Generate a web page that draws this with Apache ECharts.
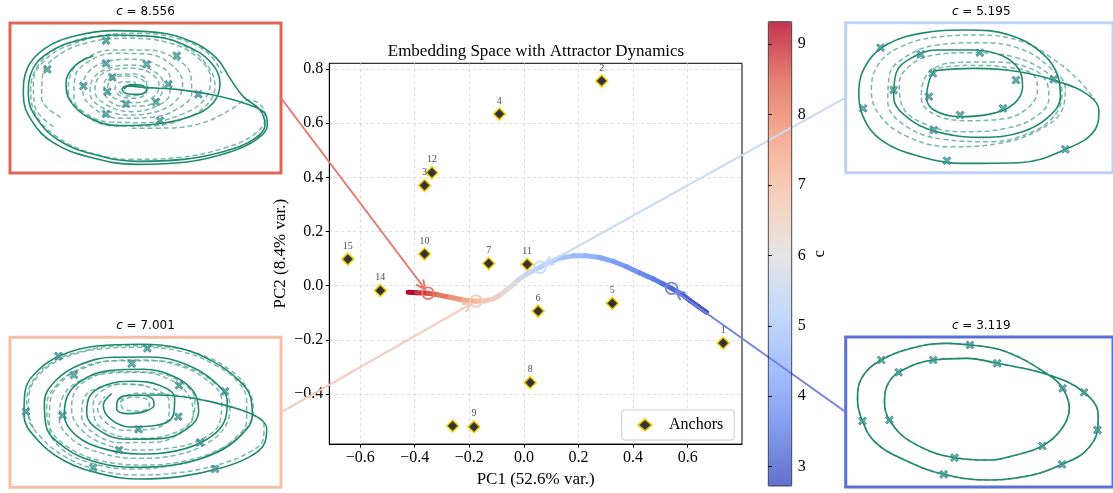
<!DOCTYPE html>
<html>
<head>
<meta charset="utf-8">
<script src="https://cdn.jsdelivr.net/npm/echarts@6/dist/echarts.min.js"></script>
<style>
  html, body { margin: 0; background: #fff; }
  #chart { width: 1113px; height: 493px; }
</style>
</head>
<body>
<div id="chart"></div>
<script>
// ---- anchors (PC1 / PC2) ----
const anchorX = [0.730, 0.285, -0.364, -0.090, 0.324, 0.052, -0.129, 0.023, -0.183, -0.364, 0.012, -0.337, -0.261, -0.526, -0.645];
const anchorY = [-0.212, 0.756, 0.370, 0.634, -0.065, -0.094, 0.082, -0.358, -0.521, 0.117, 0.079, 0.417, -0.518, -0.018, 0.098];
const anchorLabels = ['1', '2', '3', '4', '5', '6', '7', '8', '9', '10', '11', '12', '', '14', '15'];

// ---- trajectory through embedding space, coloured by c ----
const curveX = [-0.424, -0.393, -0.350, -0.314, -0.271, -0.222, -0.176, -0.143, -0.112, -0.082, -0.051, -0.021, 0.010, 0.059, 0.095, 0.132, 0.181, 0.230, 0.278, 0.327, 0.376, 0.425, 0.474, 0.510, 0.541, 0.578, 0.608, 0.639, 0.669];
const curveY = [-0.024, -0.026, -0.028, -0.034, -0.043, -0.053, -0.058, -0.056, -0.049, -0.031, -0.006, 0.021, 0.043, 0.068, 0.086, 0.102, 0.110, 0.110, 0.104, 0.090, 0.070, 0.047, 0.025, 0.006, -0.010, -0.031, -0.055, -0.077, -0.098];
const curveC = [9.30, 8.90, 8.556, 8.17, 7.78, 7.39, 7.001, 6.75, 6.49, 6.23, 5.97, 5.71, 5.45, 5.195, 5.01, 4.82, 4.63, 4.44, 4.25, 4.06, 3.87, 3.68, 3.49, 3.30, 3.119, 3.00, 2.90, 2.80, 2.73];

// ---- sampled c values shown in the insets ----
const focusC = [8.556, 7.001, 5.195, 3.119];
const focusX = [-0.351, -0.176, 0.059, 0.541];
const focusY = [-0.028, -0.057, 0.068, -0.010];

// ---- ticks ----
const xTicks = [-0.6, -0.4, -0.2, 0.0, 0.2, 0.4, 0.6];
const yTicks = [-0.4, -0.2, 0.0, 0.2, 0.4, 0.6, 0.8];
const cTicks = [3, 4, 5, 6, 7, 8, 9];
const cMin = 2.726, cMax = 9.32;

// ---- inset trajectories (traced in inset pixel space) ----
const tlSolid = [[372,268],[392,254],[425,256],[440,270],[418,283],[385,282],[366,268],[380,258],[440,263],[530,268],[640,285],[740,312],[795,340],[802,375],[770,418],[690,456],[560,486],[410,493],[270,472],[160,428],[95,362],[70,285],[82,205],[135,145],[225,108],[345,92],[470,97],[580,127],[650,175],[690,235],[730,290],[780,330],[795,375],[765,415],[680,452],[550,478],[410,484],[280,463],[175,420],[110,355],[85,285],[97,210],[150,155],[240,120],[350,105],[465,110],[565,140],[635,190],[660,250],[640,308],[575,348],[470,372],[360,377],[265,352],[210,302],[198,247],[225,197],[280,167]];
const tlDashed = [[182,352],[125,295],[128,225],[172,168],[262,128],[385,115],[505,128],[592,172],[632,238],[612,300],[545,343],[435,368],[330,366],[245,332],[205,275],[215,215],[262,172],[340,150],[440,150],[525,175],[572,225],[575,280],[535,325],[455,352],[360,355],[282,325],[248,272],[262,220],[310,188],[390,178],[465,192],[510,232],[510,280],[470,318],[395,335],[320,315],[285,275],[296,232],[340,208],[400,205],[455,222],[478,258],[458,292],[405,308],[350,298],[322,268],[336,238],[380,228],[425,238],[442,265],[420,285],[380,288],[352,268]];
const tlDashed2 = [[395,385],[505,384],[610,368],[690,330],[745,300],[785,318],[795,355],[760,405],[670,445],[540,472],[400,478],[270,458],[170,410],[108,345],[92,270],[115,195],[180,140],[290,108],[420,100],[540,118],[625,160],[665,220]];
const tlDashed3 = [[160,380],[105,320],[100,245],[135,180],[210,135],[330,108],[460,110],[565,145],[625,200],[645,260],[620,315],[555,355],[450,378],[345,378],[255,345],[222,290],[225,232],[265,185],[340,160],[440,162],[515,195],[548,250],[530,300],[470,335],[385,345],[310,325],[270,280],[280,235],[325,205],[395,195],[455,210],[490,250],[478,292],[430,318],[365,318],[318,290],[312,252],[345,225],[400,222],[440,245],[440,275],[405,295],[365,290],[345,265],[365,245],[400,245],[412,265]];
const tlMarks = [[318,122],[530,167],[142,208],[318,190],[440,193],[337,232],[250,258],[505,253],[322,275],[595,283],[378,312],[468,306],[318,342],[480,362]];

const blSolid = [[352,258],[372,243],[420,240],[456,250],[462,270],[432,290],[382,296],[350,282],[352,258],[378,242],[470,240],[580,250],[690,275],[770,305],[800,340],[795,382],[750,425],[660,460],[540,485],[420,492],[300,476],[190,436],[110,372],[72,300],[75,230],[115,165],[185,120],[290,93],[420,88],[540,100],[640,140],[712,192],[752,248],[757,302],[722,362],[652,412],[540,447],[410,457],[288,441],[193,397],[138,332],[133,262],[168,196],[238,150],[338,127],[450,126],[560,149],[642,199],[682,261],[672,322],[622,372],[532,407],[420,417],[310,401],[228,361],[193,301],[203,241],[248,195],[328,167],[430,163],[520,184],[580,229],[596,290],[562,341],[482,371],[380,373],[298,346],[260,296],[268,246],[318,210],[398,199],[478,211],[524,249],[520,300],[470,331],[390,336],[330,311],[310,271],[335,236]];
const blDashed = [[360,262],[395,247],[440,252],[448,275],[415,288],[372,283],[362,262],[410,235],[520,240],[640,262],[740,292],[792,330],[790,372],[742,415],[652,450],[530,474],[410,480],[295,465],[195,425],[120,364],[85,300],[88,235],[125,172],[195,128],[300,102],[425,97],[545,110],[645,150],[718,205],[740,260],[740,315],[700,375],[628,420],[520,451],[400,462],[280,446],[185,402],[148,335],[150,264],[185,200],[255,158],[350,137],[460,137],[570,160],[650,210],[690,270],[678,330],[625,383],[530,420],[410,430],[300,413],[215,372],[178,310],[188,246],[235,200],[315,176],[420,172],[510,194],[565,240],[580,300],[545,350],[465,382],[362,383],[282,355],[245,303],[252,250],[300,217],[380,208],[462,222],[508,260],[505,310],[452,343],[372,346],[315,320],[293,280],[315,245]];
const blDashed2 = [[100,340],[80,265],[100,195],[160,140],[250,108],[370,92],[490,95],[600,118],[690,165],[745,225],[760,285],[735,345],[670,397],[560,437],[430,450],[300,437],[210,400],[150,340],[140,270],[170,210],[225,168],[310,140],[420,135],[530,150],[620,195],[665,255],[660,320],[610,370],[520,398],[410,405],[315,388],[245,345],[215,285],[225,230],[270,190],[350,170],[450,172],[540,200],[585,255],[575,315],[520,355],[430,370],[340,358],[285,315],[280,265],[310,225],[370,207],[440,212]];
const blMarks = [[175,123],[442,100],[222,180],[395,146],[537,211],[675,229],[78,290],[188,301],[535,305],[416,343],[600,382],[357,405],[280,458],[645,462]];

const trSolid = [[300,212],[420,205],[560,215],[680,245],[770,285],[802,330],[790,390],[700,448],[560,488],[400,490],[260,470],[140,420],[85,350],[72,270],[100,185],[160,132],[260,100],[400,90],[530,105],[630,160],[678,230],[685,290],[650,350],[570,395],[450,412],[330,400],[230,360],[178,290],[185,220],[230,175],[310,150],[420,150],[510,168],[560,210],[570,260],[545,310],[480,340],[380,350],[300,330],[278,290],[285,245],[300,212]];
const trDashed = [[290,208],[400,196],[530,203],[600,222],[615,270],[590,320],[520,355],[400,362],[300,342],[262,295],[270,240],[300,205],[360,188],[480,186],[580,200],[640,240],[650,295],[610,350],[520,385],[390,395],[280,375],[205,320],[195,250],[230,195],[300,165],[420,158],[540,170],[640,215],[690,275],[672,340],[600,395],[470,425],[330,418],[215,378],[160,305],[165,225],[215,170],[310,135],[440,128],[560,145],[650,200],[700,265],[690,330],[620,390],[500,430],[350,440],[220,410],[135,345],[110,270],[130,195],[190,145],[300,112],[440,105],[570,125],[660,175],[740,240],[790,300]];
const trMarks = [[138,143],[260,163],[440,158],[297,220],[550,240],[665,238],[178,270],[285,290],[85,325],[510,325],[380,345],[300,390],[700,448],[340,482]];

const brSolid = [[410,90],[520,110],[650,180],[692,220],[712,280],[690,340],[630,393],[530,425],[470,435],[363,428],[230,380],[165,315],[150,260],[158,212],[193,172],[298,135],[400,130],[493,145],[650,180],[757,232],[800,300],[798,345],[760,410],[690,448],[600,480],[470,495],[330,478],[200,430],[120,380],[83,318],[68,255],[80,190],[140,135],[250,95],[340,85],[410,90]];
const brMarks = [[140,135],[410,90],[298,135],[493,145],[193,172],[692,220],[757,232],[83,318],[165,315],[798,345],[630,393],[363,428],[690,448],[330,478]];

// coolwarm
const coolwarm = ['#3b4cc0', '#6282ea', '#8db0fe', '#b8d0f9', '#dddddd', '#f5c4ad', '#f49a7b', '#de604d', '#b40426'];
const coolwarmLight = ['#6270cd', '#819bee', '#a4c0fe', '#c6d9fa', '#e4e4e4', '#f7d0bd', '#f6ae95', '#e58071', '#c33651'];

// inset layout (order matches focusC)
const insets = [
  { left: 10, top: 23, width: 271, height: 150, side: 'left', border: '#dd6656', xr: [30, 843], yr: [69, 519], solid: tlSolid, dashed: [tlDashed, tlDashed2, tlDashed3], marks: tlMarks },
  { left: 10, top: 337.3, width: 271, height: 150, side: 'left', border: '#f5bfa6', xr: [30, 843], yr: [67, 517], solid: blSolid, dashed: [blDashed, blDashed2], marks: blMarks },
  { left: 845.7, top: 22.7, width: 271, height: 150, side: 'right', border: '#bed2f7', xr: [32, 845], yr: [68, 518], solid: trSolid, dashed: [trDashed], marks: trMarks },
  { left: 845.7, top: 337, width: 271, height: 150, side: 'right', border: '#5a70dc', xr: [32, 845], yr: [66, 516], solid: brSolid, dashed: [brSolid], marks: brMarks }
];

const serif = '"Liberation Serif", "Times New Roman", serif';
const fmt = v => (v < 0 ? '\u2212' : '') + Math.abs(v).toFixed(1);

const curveSegs = curveX.slice(0, -1).map((x, i) => [x, curveY[i], curveC[i], curveX[i + 1], curveY[i + 1]]);
const focusData = focusC.map((c, i) => [focusX[i], focusY[i], c]);

const grids = [
  { left: 329.3, top: 63.3, width: 412.7, height: 382.4, show: true, borderColor: '#000', borderWidth: 1 },
  { left: 768.3, top: 21.7, width: 23.4, height: 464.3, show: true, borderColor: '#222', borderWidth: 0.8, z: 10 }
];
const xAxes = [
  {
    gridIndex: 0, type: 'value', min: -0.713, max: 0.799,
    axisLine: { onZero: false, lineStyle: { color: '#000' } },
    axisTick: { customValues: xTicks, length: 3.5, lineStyle: { color: '#000' } },
    axisLabel: { customValues: xTicks, formatter: fmt, fontFamily: serif, fontSize: 16, color: '#000', margin: 6 },
    splitLine: { show: true, lineStyle: { color: '#d5d5d5', type: [3, 3], width: 0.8 } },
    name: 'PC1 (52.6% var.)', nameLocation: 'middle', nameGap: 24,
    nameTextStyle: { fontFamily: serif, fontSize: 17, color: '#000' }
  },
  { gridIndex: 1, type: 'value', min: 0, max: 1, show: false }
];
const yAxes = [
  {
    gridIndex: 0, type: 'value', min: -0.585, max: 0.821,
    axisLine: { onZero: false, lineStyle: { color: '#000' } },
    axisTick: { customValues: yTicks, length: 3.5, lineStyle: { color: '#000' } },
    axisLabel: { customValues: yTicks, formatter: fmt, fontFamily: serif, fontSize: 16, color: '#000', margin: 6 },
    splitLine: { show: true, lineStyle: { color: '#d5d5d5', type: [3, 3], width: 0.8 } },
    name: 'PC2 (8.4% var.)', nameLocation: 'middle', nameGap: 40, nameRotate: 90,
    nameTextStyle: { fontFamily: serif, fontSize: 17, color: '#000' }
  },
  {
    gridIndex: 1, type: 'value', min: cMin, max: cMax, position: 'right', z: 10,
    axisLine: { show: false },
    axisTick: { customValues: cTicks, length: 3.5, lineStyle: { color: '#000' } },
    axisLabel: { customValues: cTicks, fontFamily: serif, fontSize: 16, color: '#000', margin: 6 },
    splitLine: { show: false },
    name: 'c', nameLocation: 'middle', nameGap: 19, nameRotate: 90,
    nameTextStyle: { fontFamily: serif, fontSize: 17, color: '#000' }
  }
];

const titles = [{
  text: 'Embedding Space with Attractor Dynamics', left: 536, top: 43, textAlign: 'center', padding: 0,
  textStyle: { fontFamily: serif, fontSize: 17, fontWeight: 'normal', color: '#000' }
}];

const series = [
  {
    name: 'Anchors', type: 'scatter', xAxisIndex: 0, yAxisIndex: 0, z: 5,
    data: anchorX.map((x, i) => [x, anchorY[i]]),
    symbol: 'diamond', symbolSize: 12,
    itemStyle: { color: '#000', borderColor: '#FFD700', borderWidth: 1.8 },
    label: {
      show: true, position: 'top', distance: 1,
      formatter: p => anchorLabels[p.dataIndex],
      fontFamily: serif, fontSize: 10, color: '#222'
    }
  },
  {
    type: 'custom', xAxisIndex: 0, yAxisIndex: 0, z: 3,
    data: curveSegs, encode: { x: [0, 3], y: [1, 4] },
    renderItem: (params, api) => {
      const a = api.coord([api.value(0), api.value(1)]);
      const b = api.coord([api.value(3), api.value(4)]);
      return {
        type: 'line', shape: { x1: a[0], y1: a[1], x2: b[0], y2: b[1] },
        style: { stroke: api.visual('color'), lineWidth: 5, lineCap: 'round' }
      };
    }
  },
  {
    type: 'custom', xAxisIndex: 0, yAxisIndex: 0, z: 4,
    data: focusData, encode: { x: 0, y: 1 },
    renderItem: (params, api) => {
      const p = api.coord([api.value(0), api.value(1)]);
      return {
        type: 'circle', shape: { cx: p[0], cy: p[1], r: 5.8 },
        style: { stroke: api.visual('color'), lineWidth: 1.8, fill: null }
      };
    }
  },
  {
    type: 'custom', xAxisIndex: 0, yAxisIndex: 0, z: 4, clip: false,
    data: focusData, encode: { x: 0, y: 1 },
    renderItem: (params, api) => {
      const end = api.coord([api.value(0), api.value(1)]);
      const box = insets[params.dataIndex];
      const start = [box.side === 'left' ? box.left + box.width : box.left, box.top + box.height / 2];
      const dx = end[0] - start[0], dy = end[1] - start[1];
      const len = Math.hypot(dx, dy), ux = dx / len, uy = dy / len;
      const tip = [end[0] - ux * 5, end[1] - uy * 5];
      const h = 9, w = 4.5;
      const p1 = [tip[0] - ux * h - uy * w, tip[1] - uy * h + ux * w];
      const p2 = [tip[0] - ux * h + uy * w, tip[1] - uy * h - ux * w];
      const color = api.visual('color');
      return {
        type: 'group', children: [
          { type: 'line', shape: { x1: start[0], y1: start[1], x2: tip[0], y2: tip[1] }, style: { stroke: color, lineWidth: 2 } },
          { type: 'polyline', shape: { points: [p1, tip, p2] }, style: { stroke: color, lineWidth: 2, fill: null } }
        ]
      };
    }
  }
];

const xMark = 'path://M2,0 L5,3 L8,0 L10,2 L7,5 L10,8 L8,10 L5,7 L2,10 L0,8 L3,5 L0,2 Z';

insets.forEach((ins, k) => {
  const gi = k + 2;
  grids.push({ left: ins.left, top: ins.top, width: ins.width, height: ins.height, show: true, borderColor: ins.border, borderWidth: 3, backgroundColor: '#fff' });
  xAxes.push({ gridIndex: gi, type: 'value', min: ins.xr[0], max: ins.xr[1], show: false });
  yAxes.push({ gridIndex: gi, type: 'value', min: ins.yr[0], max: ins.yr[1], inverse: true, show: false });
  titles.push({
    text: '{i|c} = ' + focusC[k].toFixed(3),
    left: ins.left + 135.5, top: ins.top - 17, textAlign: 'center', padding: 0,
    textStyle: {
      fontFamily: '"DejaVu Sans", sans-serif', fontSize: 12, fontWeight: 'normal', color: '#000',
      rich: { i: { fontFamily: '"DejaVu Sans", sans-serif', fontStyle: 'italic', fontSize: 12, color: '#000' } }
    }
  });
  ins.dashed.forEach(path => {
    series.push({
      type: 'line', xAxisIndex: gi, yAxisIndex: gi, data: path, smooth: 0.4, showSymbol: false, z: 3,
      lineStyle: { color: 'rgba(96, 172, 150, 0.85)', width: 1.5, type: [5, 3] }
    });
  });
  series.push({
    type: 'line', xAxisIndex: gi, yAxisIndex: gi, data: ins.solid, smooth: 0.4, showSymbol: false, z: 4,
    lineStyle: { color: '#1f8a6c', width: 1.6 }
  });
  series.push({
    type: 'scatter', xAxisIndex: gi, yAxisIndex: gi, data: ins.marks, z: 5,
    symbol: xMark, symbolSize: 8,
    itemStyle: { color: '#3fa27c', borderColor: '#2b6fa6', borderWidth: 0.9 }
  });
});

const chart = echarts.init(document.getElementById('chart'));
chart.setOption({
  animation: false,
  backgroundColor: '#fff',
  title: titles,
  grid: grids,
  xAxis: xAxes,
  yAxis: yAxes,
  legend: {
    data: ['Anchors'], left: 621.7, top: 410,
    padding: [7, 11, 7, 15.3], itemWidth: 14, itemHeight: 12, icon: 'diamond',
    borderColor: '#cccccc', borderWidth: 1, borderRadius: 3, backgroundColor: 'rgba(255,255,255,0.8)',
    textStyle: { fontFamily: serif, fontSize: 16, color: '#000', padding: [0, 0, 0, 12] }
  },
  visualMap: [
    {
      type: 'continuous', show: true, seriesIndex: [2, 3], dimension: 2,
      min: cMin, max: cMax, calculable: false, hoverLink: false,
      left: 768.3, top: 21.7, itemWidth: 23.4, itemHeight: 464.3, padding: 0, text: ['', ''], z: 1,
      inRange: { color: coolwarmLight }
    },
    {
      type: 'continuous', show: false, seriesIndex: [1], dimension: 2,
      min: cMin, max: cMax, inRange: { color: coolwarm }
    }
  ],
  series: series
});
</script>
</body>
</html>
